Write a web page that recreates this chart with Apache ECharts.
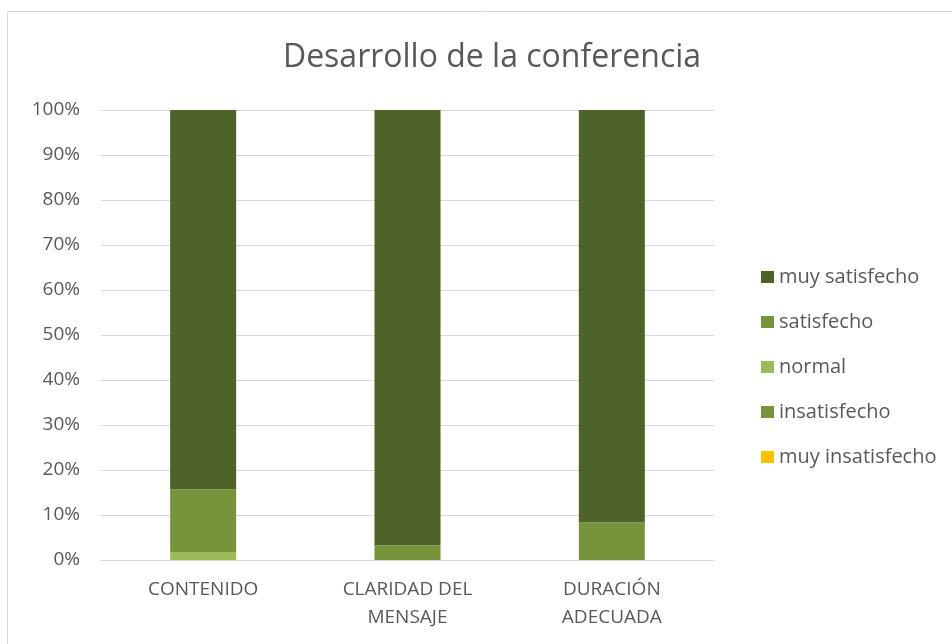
<!DOCTYPE html>
<html>
<head>
<meta charset="utf-8">
<script src="https://cdn.jsdelivr.net/npm/echarts@6/dist/echarts.min.js"></script>
<style>
  html, body { margin: 0; padding: 0; background: #fff; }
  #chart { width: 952px; height: 644px; }
</style>
</head>
<body>
<div id="chart"></div>
<script>
// categorias y valores (% de respuestas)
const categories = ["CONTENIDO", "CLARIDAD DEL\nMENSAJE", "DURACIÓN\nADECUADA"];
const muyInsatisfecho = [0, 0, 0];
const insatisfecho = [0, 0, 0];
const normal = [1.8, 0, 0];
const satisfecho = [13.9, 3.3, 8.4];
const muySatisfecho = [84.3, 96.7, 91.6];
const yTicks = [0, 10, 20, 30, 40, 50, 60, 70, 80, 90, 100];

const font = "'Open Sans', sans-serif";
const grey = "#595959";

function bar(name, data, color) {
  return {
    name: name,
    type: "bar",
    stack: "total",
    barWidth: 66,
    data: data,
    itemStyle: { color: color },
    emphasis: { disabled: true }
  };
}

let chart = echarts.init(document.getElementById("chart"));
chart.setOption({
  animation: false,
  title: {
    text: "Desarrollo de la conferencia",
    left: 487,
    textAlign: "center",
    top: 37,
    textStyle: { fontFamily: font, fontSize: 32, fontWeight: "normal", color: grey }
  },
  graphic: [{
    type: "rect",
    shape: { x: 7.5, y: 11.5, width: 1000, height: 700 },
    style: { fill: "none", stroke: "#d9d9d9", lineWidth: 1 },
    silent: true
  }],
  legend: {
    orient: "vertical",
    left: 756,
    top: 262,
    icon: "rect",
    itemWidth: 13,
    itemHeight: 12,
    itemGap: 25,
    textStyle: { fontFamily: font, fontSize: 20, color: grey, lineHeight: 20 },
    data: ["muy satisfecho", "satisfecho", "normal", "insatisfecho", "muy insatisfecho"]
  },
  grid: { left: 101, right: 238, top: 110, bottom: 84 },
  xAxis: {
    type: "category",
    data: categories,
    axisLine: { lineStyle: { color: "#d9d9d9" } },
    axisTick: { show: false },
    axisLabel: { fontFamily: font, fontSize: 19, color: grey, lineHeight: 28, margin: 16 }
  },
  yAxis: {
    type: "value",
    min: yTicks[0],
    max: yTicks[yTicks.length - 1],
    interval: 10,
    axisLine: { show: false },
    axisTick: { show: false },
    splitLine: { lineStyle: { color: "#d9d9d9", width: 1 } },
    axisLabel: { fontFamily: font, fontSize: 19, color: grey, margin: 21, formatter: "{value}%" }
  },
  series: [
    bar("muy insatisfecho", muyInsatisfecho, "#FFC000"),
    bar("insatisfecho", insatisfecho, "#77933C"),
    bar("normal", normal, "#9BBB59"),
    bar("satisfecho", satisfecho, "#77933C"),
    bar("muy satisfecho", muySatisfecho, "#4F6228")
  ]
});
</script>
</body>
</html>
